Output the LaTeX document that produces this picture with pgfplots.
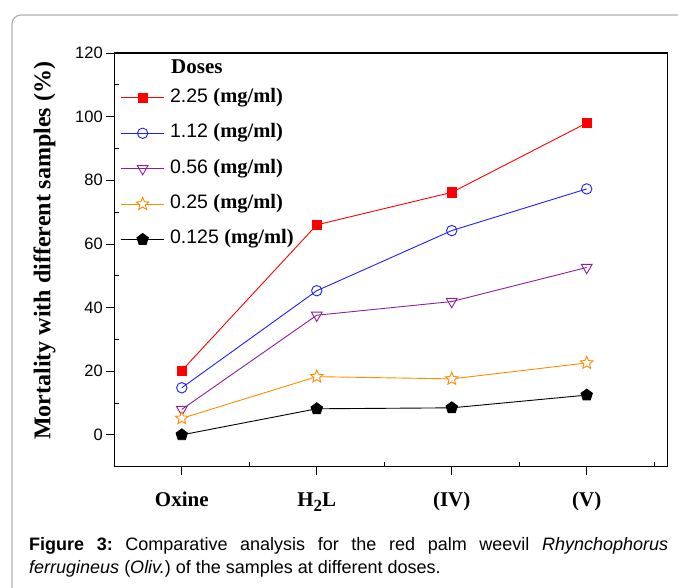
\documentclass[border=0pt]{standalone}
\usepackage{fontspec}
\setmainfont{Liberation Serif}
\setsansfont{Liberation Sans}
\usepackage{pgfplots}
\pgfplotsset{compat=1.18}
\usetikzlibrary{plotmarks}
\definecolor{cRed}{RGB}{255,0,0}
\definecolor{cBlue}{RGB}{30,30,255}
\definecolor{cPurple}{RGB}{140,30,160}
\definecolor{cOrange}{RGB}{255,140,0}
\definecolor{frameGray}{RGB}{175,175,175}

% open five-pointed star
\pgfdeclareplotmark{ostar}{%
  \pgfpathmoveto{\pgfpointpolar{90}{\pgfplotmarksize}}%
  \pgfpathlineto{\pgfpointpolar{126}{0.45\pgfplotmarksize}}%
  \pgfpathlineto{\pgfpointpolar{162}{\pgfplotmarksize}}%
  \pgfpathlineto{\pgfpointpolar{198}{0.45\pgfplotmarksize}}%
  \pgfpathlineto{\pgfpointpolar{234}{\pgfplotmarksize}}%
  \pgfpathlineto{\pgfpointpolar{270}{0.45\pgfplotmarksize}}%
  \pgfpathlineto{\pgfpointpolar{306}{\pgfplotmarksize}}%
  \pgfpathlineto{\pgfpointpolar{342}{0.45\pgfplotmarksize}}%
  \pgfpathlineto{\pgfpointpolar{18}{\pgfplotmarksize}}%
  \pgfpathlineto{\pgfpointpolar{54}{0.45\pgfplotmarksize}}%
  \pgfpathclose
  \pgfusepathqfillstroke
}

\pgfplotstableread{
x   d225  d112  d056  d025  d0125
0   20.2  14.8  8.0   5.2   0.0
1   66.0  45.3  37.6  18.3  8.2
2   76.2  64.2  41.9  17.6  8.5
3   98.0  77.3  52.6  22.6  12.5
}\doses

\newcommand{\unit}{{\fontsize{20.5}{21}\bfseries\rmfamily (mg/ml)}}
\newcommand{\num}[1]{{\fontsize{19.5}{20}\sffamily #1\ }}

\begin{document}
\frenchspacing
\begin{tikzpicture}
\useasboundingbox (0,0) rectangle (678pt,-587pt);
\clip (0,0) rectangle (678pt,-587pt);
\draw[frameGray, line width=1.2pt, rounded corners=9pt] (12pt,-15pt) rectangle (760pt,-700pt);

\begin{axis}[
    at={(114.3pt,-466.7pt)}, anchor=south west,
    scale only axis, width=553.4pt, height=413.7pt,
    xmin=-0.5, xmax=3.6, ymin=-10, ymax=120,
    xtick={0,1,2,3},
    xticklabels={Oxine, H\raisebox{-5pt}{\fontsize{17}{17}\selectfont 2}L, (IV), (V)},
    ytick={0,20,...,120},
    extra y ticks={10,30,50,70,90,110}, extra y tick labels={},
    extra x ticks={0.5,1.5,2.5,3.5}, extra x tick labels={},
    extra tick style={tick align=inside, major tick length=5pt},
    tick pos=left, tick align=outside, major tick length=8pt,
    tick style={line width=0.8pt, black},
    axis line style={line width=1.1pt},
    /pgf/number format/assume math mode=true,
    yticklabel style={font=\fontsize{16.5}{16.5}\sffamily},
    xticklabel style={font=\fontsize{21}{21}\bfseries\rmfamily, text height=14pt, text depth=5pt, yshift=-14pt},
    ylabel={Mortality with different samples (\%)},
    ylabel style={font=\fontsize{24}{24}\bfseries\rmfamily, at={(axis description cs:-0.126,0.522)}, anchor=center},
    legend style={at={(axis description cs:0.0103,0.915)}, anchor=north west,
        draw=none, fill=none, inner sep=0pt, row sep=16.4pt, column sep=6pt,
        nodes={inner sep=0pt, text height=14pt, text depth=5pt}},
    legend cell align=left,
    legend image code/.code={\draw[mark repeat=2, mark phase=2, #1] plot coordinates {(0pt,0pt) (22pt,0pt) (43pt,0pt)};},
    every axis plot/.append style={line width=0.9pt},
]
\addplot[cRed, mark=square*, mark size=4.6pt, mark options={fill=cRed}] table[x=x, y=d225] {\doses};
\addlegendentry{\num{2.25}\unit}
\addplot[cBlue, mark=o, mark size=5.2pt, mark options={fill=white}] table[x=x, y=d112] {\doses};
\addlegendentry{\num{1.12}\unit}
\addplot[cPurple, mark=triangle, mark size=6.2pt, mark options={rotate=180, fill=white}] table[x=x, y=d056] {\doses};
\addlegendentry{\num{0.56}\unit}
\addplot[cOrange, mark=ostar, mark size=6.6pt, mark options={fill=white, line width=0.9pt}] table[x=x, y=d025] {\doses};
\addlegendentry{\num{0.25}\unit}
\addplot[black, mark=pentagon*, mark size=6pt, mark options={fill=black}] table[x=x, y=d0125] {\doses};
\addlegendentry{\num{0.125}\unit}
\end{axis}

\node[anchor=base west, inner sep=0pt, font=\fontsize{21}{21}\bfseries\rmfamily] at (171pt,-73pt) {Doses};

\node[anchor=base west, inner sep=0pt, font=\fontsize{18}{18}\sffamily] at (29pt,-550pt)
  {\makebox[639pt][s]{\textbf{Figure 3:} Comparative analysis for the red palm weevil \textit{Rhynchophorus}}};
\node[anchor=base west, inner sep=0pt, font=\fontsize{18}{18}\sffamily] at (29pt,-573pt)
  {\textit{ferrugineus} (\textit{Oliv.}) of the samples at different doses.};
\end{tikzpicture}
\end{document}
